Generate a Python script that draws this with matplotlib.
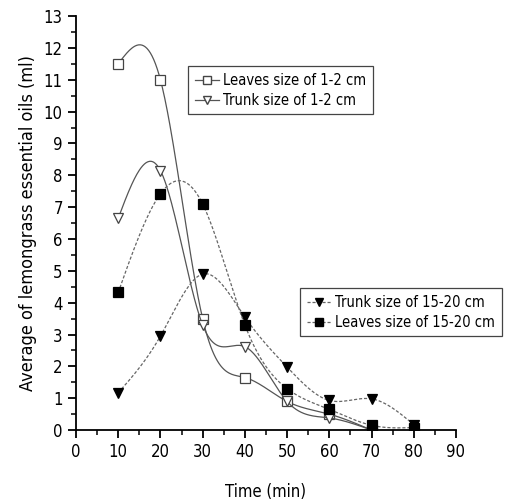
import matplotlib.pyplot as plt
import numpy as np
from matplotlib.lines import Line2D

# Data
time = [10, 20, 30, 40, 50, 60, 70]
leaves_small = [11.5, 11.0, 3.5, 1.65, 0.9, 0.5, 0.0]
trunk_small = [6.65, 8.15, 3.3, 2.62, 0.9, 0.38, 0.0]
time_big = [10, 20, 30, 40, 50, 60, 70, 80]
trunk_big = [1.17, 2.95, 4.9, 3.55, 1.98, 0.93, 0.98, 0.17]
leaves_big = [4.32, 7.42, 7.1, 3.3, 1.3, 0.65, 0.15, 0.08]


def spline(x, y, n=300):
    # natural cubic spline, like Origin's spline connector
    x = np.asarray(x, float)
    y = np.asarray(y, float)
    k = len(x)
    h = np.diff(x)
    A = np.zeros((k, k))
    b = np.zeros(k)
    A[0, 0] = A[-1, -1] = 1
    for i in range(1, k - 1):
        A[i, i - 1] = h[i - 1]
        A[i, i] = 2 * (h[i - 1] + h[i])
        A[i, i + 1] = h[i]
        b[i] = 6 * ((y[i + 1] - y[i]) / h[i] - (y[i] - y[i - 1]) / h[i - 1])
    m = np.linalg.solve(A, b)
    xs = np.linspace(x[0], x[-1], n)
    idx = np.clip(np.searchsorted(x, xs) - 1, 0, k - 2)
    x0, x1 = x[idx], x[idx + 1]
    hh = x1 - x0
    t0, t1 = x1 - xs, xs - x0
    ys = (m[idx] * t0 ** 3 + m[idx + 1] * t1 ** 3) / (6 * hh) \
        + (y[idx] / hh - m[idx] * hh / 6) * t0 \
        + (y[idx + 1] / hh - m[idx + 1] * hh / 6) * t1
    return xs, ys


plt.rcParams['font.family'] = ['DejaVu Sans']
plt.rcParams['font.stretch'] = 'condensed'

fig = plt.figure(figsize=(5.1, 5.03), dpi=100)
ax = fig.add_axes([0.149, 0.145, 0.745, 0.823])

solid = '#555555'
dash = '#666666'
dashes = (0, (2.5, 1.5))

for xv, yv, mk, ls, col, fc in [
    (time, leaves_small, 's', '-', solid, 'white'),
    (time, trunk_small, 'v', '-', solid, 'white'),
    (time_big, trunk_big, 'v', dashes, dash, 'black'),
    (time_big, leaves_big, 's', dashes, dash, 'black'),
]:
    xs, ys = spline(xv, yv)
    ax.plot(xs, ys, color=col, lw=0.9, ls=ls)
    ax.plot(xv, yv, ls='none', marker=mk, ms=7, mfc=fc,
            mec='#444444' if fc == 'white' else 'black', mew=0.9)

h1 = [Line2D([], [], color=solid, lw=0.9, marker='s', ms=6, mfc='white', mec='#444444'),
      Line2D([], [], color=solid, lw=0.9, marker='v', ms=6, mfc='white', mec='#444444')]
h2 = [Line2D([], [], color=dash, lw=0.9, ls=dashes, marker='v', ms=6, mfc='black', mec='black'),
      Line2D([], [], color=dash, lw=0.9, ls=dashes, marker='s', ms=6, mfc='black', mec='black')]
kw = dict(loc='upper left', fontsize=10.5, fancybox=False, edgecolor='#444444',
          handlelength=1.7, borderpad=0.45, labelspacing=0.35, handletextpad=0.25,
          borderaxespad=0, framealpha=1)
leg1 = ax.legend(h1, ['Leaves size of 1-2 cm', 'Trunk size of 1-2 cm'],
                 bbox_to_anchor=(0.295, 0.879), **kw)
leg1.get_frame().set_linewidth(0.9)
ax.add_artist(leg1)
leg2 = ax.legend(h2, ['Trunk size of 15-20 cm', 'Leaves size of 15-20 cm'],
                 bbox_to_anchor=(0.59, 0.343), **kw)
leg2.get_frame().set_linewidth(0.9)

ax.set_xlim(0, 90)
ax.set_ylim(0, 13)
ax.set_xticks(np.arange(0, 91, 10))
ax.set_xticks(np.arange(0, 91, 5), minor=True)
ax.set_yticks(np.arange(0, 14, 1))
ax.set_yticks(np.arange(0, 13.1, 0.5), minor=True)
ax.spines['top'].set_visible(False)
ax.spines['right'].set_visible(False)
for s in ('left', 'bottom'):
    ax.spines[s].set_linewidth(1.3)
ax.tick_params(which='major', direction='out', length=6, width=1.3, labelsize=12)
ax.tick_params(which='minor', direction='out', length=3.5, width=1.1)

ax.set_xlabel('Time (min)', fontsize=12, labelpad=16)
ax.set_ylabel('Average of lemongrass essential oils (ml)', fontsize=13, labelpad=5)

plt.savefig('out.png', dpi=100)
